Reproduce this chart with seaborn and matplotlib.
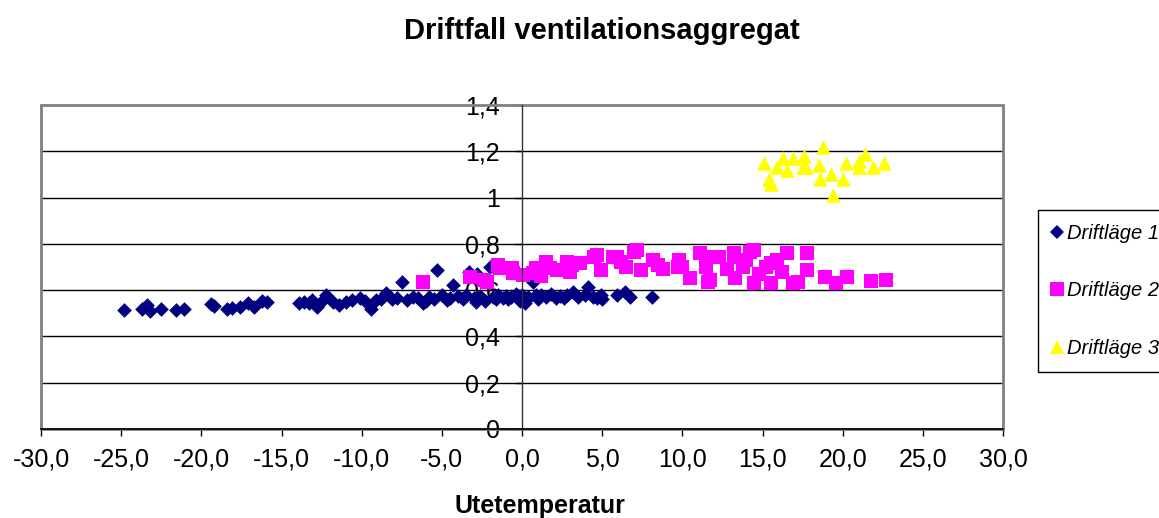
import matplotlib
matplotlib.use("Agg")
import matplotlib.pyplot as plt
import seaborn as sns
from matplotlib.patches import Rectangle
from matplotlib.lines import Line2D

# Driftläge 1 (navy diamonds)
x1 = [-24.8, -23.7, -23.4, -23.2, -22.5, -21.6, -21.1, -19.4, -19.2, -18.4,
      -18.1, -17.6, -17.1, -16.7, -16.2, -15.9, -13.9, -13.6, -13.3, -13.1,
      -12.8, -12.5, -12.2, -11.8, -11.4, -11.0, -10.6, -10.1, -9.4, -9.1,
      -8.8, -8.5, -8.1, -7.8, -7.5, -7.2, -6.8, -6.5, -6.2, -5.8,
      -5.5, -5.3, -5.0, -4.7, -4.5, -4.3, -4.0, -3.7, -3.5, -3.3,
      -3.0, -2.8, -2.6, -2.3, -2.0, -1.8, -1.5, -1.2, -1.0, -0.7,
      -0.4, -0.2, 0.0, 0.2, 0.4, 0.6, 0.7, 0.9, 1.2, 1.5,
      1.8, 2.1, 2.4, 2.8, 3.2, 3.5, 3.9, 4.1, 4.4, 4.7,
      4.9, 5.9, 6.4, 6.75, 8.1,
      -9.8, -6.0, -2.9, -1.6, -0.9, -0.1, 0.3, 1.0, 2.6, 5.0]
y1 = [0.514, 0.52, 0.536, 0.51, 0.517, 0.514, 0.52, 0.539, 0.532, 0.517,
      0.522, 0.529, 0.543, 0.529, 0.555, 0.548, 0.546, 0.55, 0.543, 0.557,
      0.529, 0.553, 0.58, 0.55, 0.536, 0.55, 0.557, 0.565, 0.52, 0.557,
      0.562, 0.586, 0.56, 0.565, 0.636, 0.558, 0.572, 0.567, 0.543, 0.57,
      0.562, 0.687, 0.58, 0.557, 0.565, 0.622, 0.575, 0.56, 0.58, 0.68,
      0.567, 0.67, 0.575, 0.555, 0.70, 0.572, 0.58, 0.565, 0.575, 0.57,
      0.582, 0.565, 0.578, 0.545, 0.57, 0.687, 0.637, 0.578, 0.58, 0.572,
      0.585, 0.568, 0.575, 0.58, 0.593, 0.57, 0.578, 0.615, 0.572, 0.565,
      0.58, 0.58, 0.593, 0.572, 0.572,
      0.555, 0.555, 0.55, 0.56, 0.56, 0.555, 0.56, 0.56, 0.565, 0.56]

# Driftläge 2 (magenta squares)
x2 = [-6.2, -3.25, -2.4, -2.2, -1.5, -1.4, -0.65, -0.55, 0.07, 0.7,
      0.9, 1.5, 1.75, 2.2, 2.8, 3.1, 3.6, 4.5, 4.7, 4.9,
      5.7, 5.9, 7.0, 7.2, 7.4, 8.2, 8.5, 9.7, 9.8, 10.5,
      11.1, 11.5, 11.5, 11.6, 11.75, 12.3, 13.2, 13.2, 13.3, 14.0,
      14.25, 14.5, 14.5, 15.2, 15.5, 15.5, 15.9, 16.5, 16.9, 17.2,
      17.8, 17.8, 18.9, 19.6, 20.3, 21.75, 22.7,
      1.2, 3.0, 6.2, 6.5, 8.8, 10.0, 12.8, 13.8, 14.8, 16.2]
y2 = [0.637, 0.655, 0.644, 0.637, 0.709, 0.695, 0.694, 0.673, 0.665, 0.673,
      0.694, 0.723, 0.694, 0.687, 0.723, 0.709, 0.716, 0.745, 0.752, 0.687,
      0.745, 0.745, 0.766, 0.774, 0.687, 0.73, 0.709, 0.70, 0.73, 0.651,
      0.759, 0.70, 0.745, 0.637, 0.644, 0.745, 0.759, 0.745, 0.651, 0.73,
      0.766, 0.774, 0.63, 0.70, 0.716, 0.63, 0.73, 0.759, 0.63, 0.637,
      0.759, 0.687, 0.655, 0.63, 0.655, 0.64, 0.645,
      0.66, 0.68, 0.72, 0.70, 0.69, 0.70, 0.69, 0.70, 0.67, 0.68]

# Driftläge 3 (yellow triangles)
x3 = [15.1, 15.4, 15.5, 15.9, 16.3, 16.5, 16.9, 17.5, 17.6, 17.7, 18.5,
      18.6, 18.8, 19.3, 19.4, 20.0, 20.2, 21.0, 21.0, 21.4, 21.9, 22.6]
y3 = [1.15, 1.08, 1.06, 1.13, 1.17, 1.12, 1.17, 1.13, 1.18, 1.13, 1.14,
      1.08, 1.22, 1.10, 1.01, 1.08, 1.15, 1.16, 1.13, 1.19, 1.13, 1.15]

series_names = ["Driftläge 1", "Driftläge 2", "Driftläge 3"]
series_colors = ["#000080", "#FF00FF", "#FFFF00"]
series_markers = ["D", "s", "^"]

xticks = [-30, -25, -20, -15, -10, -5, 0, 5, 10, 15, 20, 25, 30]
yticks = [0, 0.2, 0.4, 0.6, 0.8, 1.0, 1.2, 1.4]

sns.set_style("white")
plt.rcParams['font.family'] = ['Liberation Sans', 'DejaVu Sans']
plt.rcParams['text.color'] = 'black'
plt.rcParams['xtick.color'] = 'black'
plt.rcParams['ytick.color'] = 'black'

fig = plt.figure(figsize=(11.59, 5.18), dpi=100)
ax = fig.add_axes([41/1159, 89/518, 962/1159, 324/518])

# gridlines behind the markers
for yv in yticks[1:-1]:
    ax.axhline(yv, color="black", lw=1, zorder=0.5)

sns.scatterplot(x=x1, y=y1, marker="D", s=56, color=series_colors[0],
                linewidth=0, ax=ax, zorder=2)
sns.scatterplot(x=x2, y=y2, marker="s", s=110, color=series_colors[1],
                linewidth=0, ax=ax, zorder=2)
sns.scatterplot(x=x3, y=y3, marker="^", s=110, color=series_colors[2],
                linewidth=0, ax=ax, zorder=2)

ax.set_xlim(-30, 30)
ax.set_ylim(0, 1.4)

ax.set_xticks(xticks)
ax.set_xticklabels([f"{v:.1f}".replace(".", ",") for v in xticks])
ax.set_yticks(yticks)
ax.set_yticklabels([("%g" % v).replace(".", ",") for v in yticks])

ax.spines["left"].set_position(("data", 0))
ax.spines["left"].set_color("#333333")
ax.spines["left"].set_linewidth(1)
ax.spines["bottom"].set_color("black")
ax.spines["bottom"].set_linewidth(1.2)
ax.spines["top"].set_visible(False)
ax.spines["right"].set_visible(False)
ax.add_patch(Rectangle((0, 0), 1, 1, transform=ax.transAxes, fill=False,
                       edgecolor="#808080", lw=2, zorder=2.4, clip_on=False))

ax.tick_params(axis="x", direction="out", length=5, width=1, pad=8,
               labelsize=18, color="black", labelcolor="black", bottom=True)
ax.tick_params(axis="y", direction="out", length=5, width=1, pad=11,
               labelsize=18, color="black", labelcolor="black", left=True)
ax.set_xlabel("")
ax.set_ylabel("")

fig.text(602/1159, 1 - 31/518, "Driftfall ventilationsaggregat",
         ha="center", va="center", fontsize=21, fontweight="bold",
         color="black")
fig.text(540/1159, 1 - 506/518, "Utetemperatur",
         ha="center", va="center", fontsize=18, fontweight="bold",
         color="black")

handles = [Line2D([], [], linestyle="none", marker=m, color=c,
                  markersize=ms, markeredgewidth=0)
           for m, c, ms in zip(series_markers, series_colors, [7, 10, 10])]
leg = fig.legend(handles, series_names, loc="upper left",
                 bbox_to_anchor=(1038/1159, 1 - 210/518), borderaxespad=0,
                 frameon=True, fancybox=False, edgecolor="black",
                 prop={"style": "italic", "size": 14.5},
                 labelspacing=1.9, handlelength=0.5, handletextpad=0.25,
                 borderpad=0.7)
leg.get_frame().set_linewidth(1)
leg.get_frame().set_alpha(1)

fig.savefig("out.png", dpi=100)
